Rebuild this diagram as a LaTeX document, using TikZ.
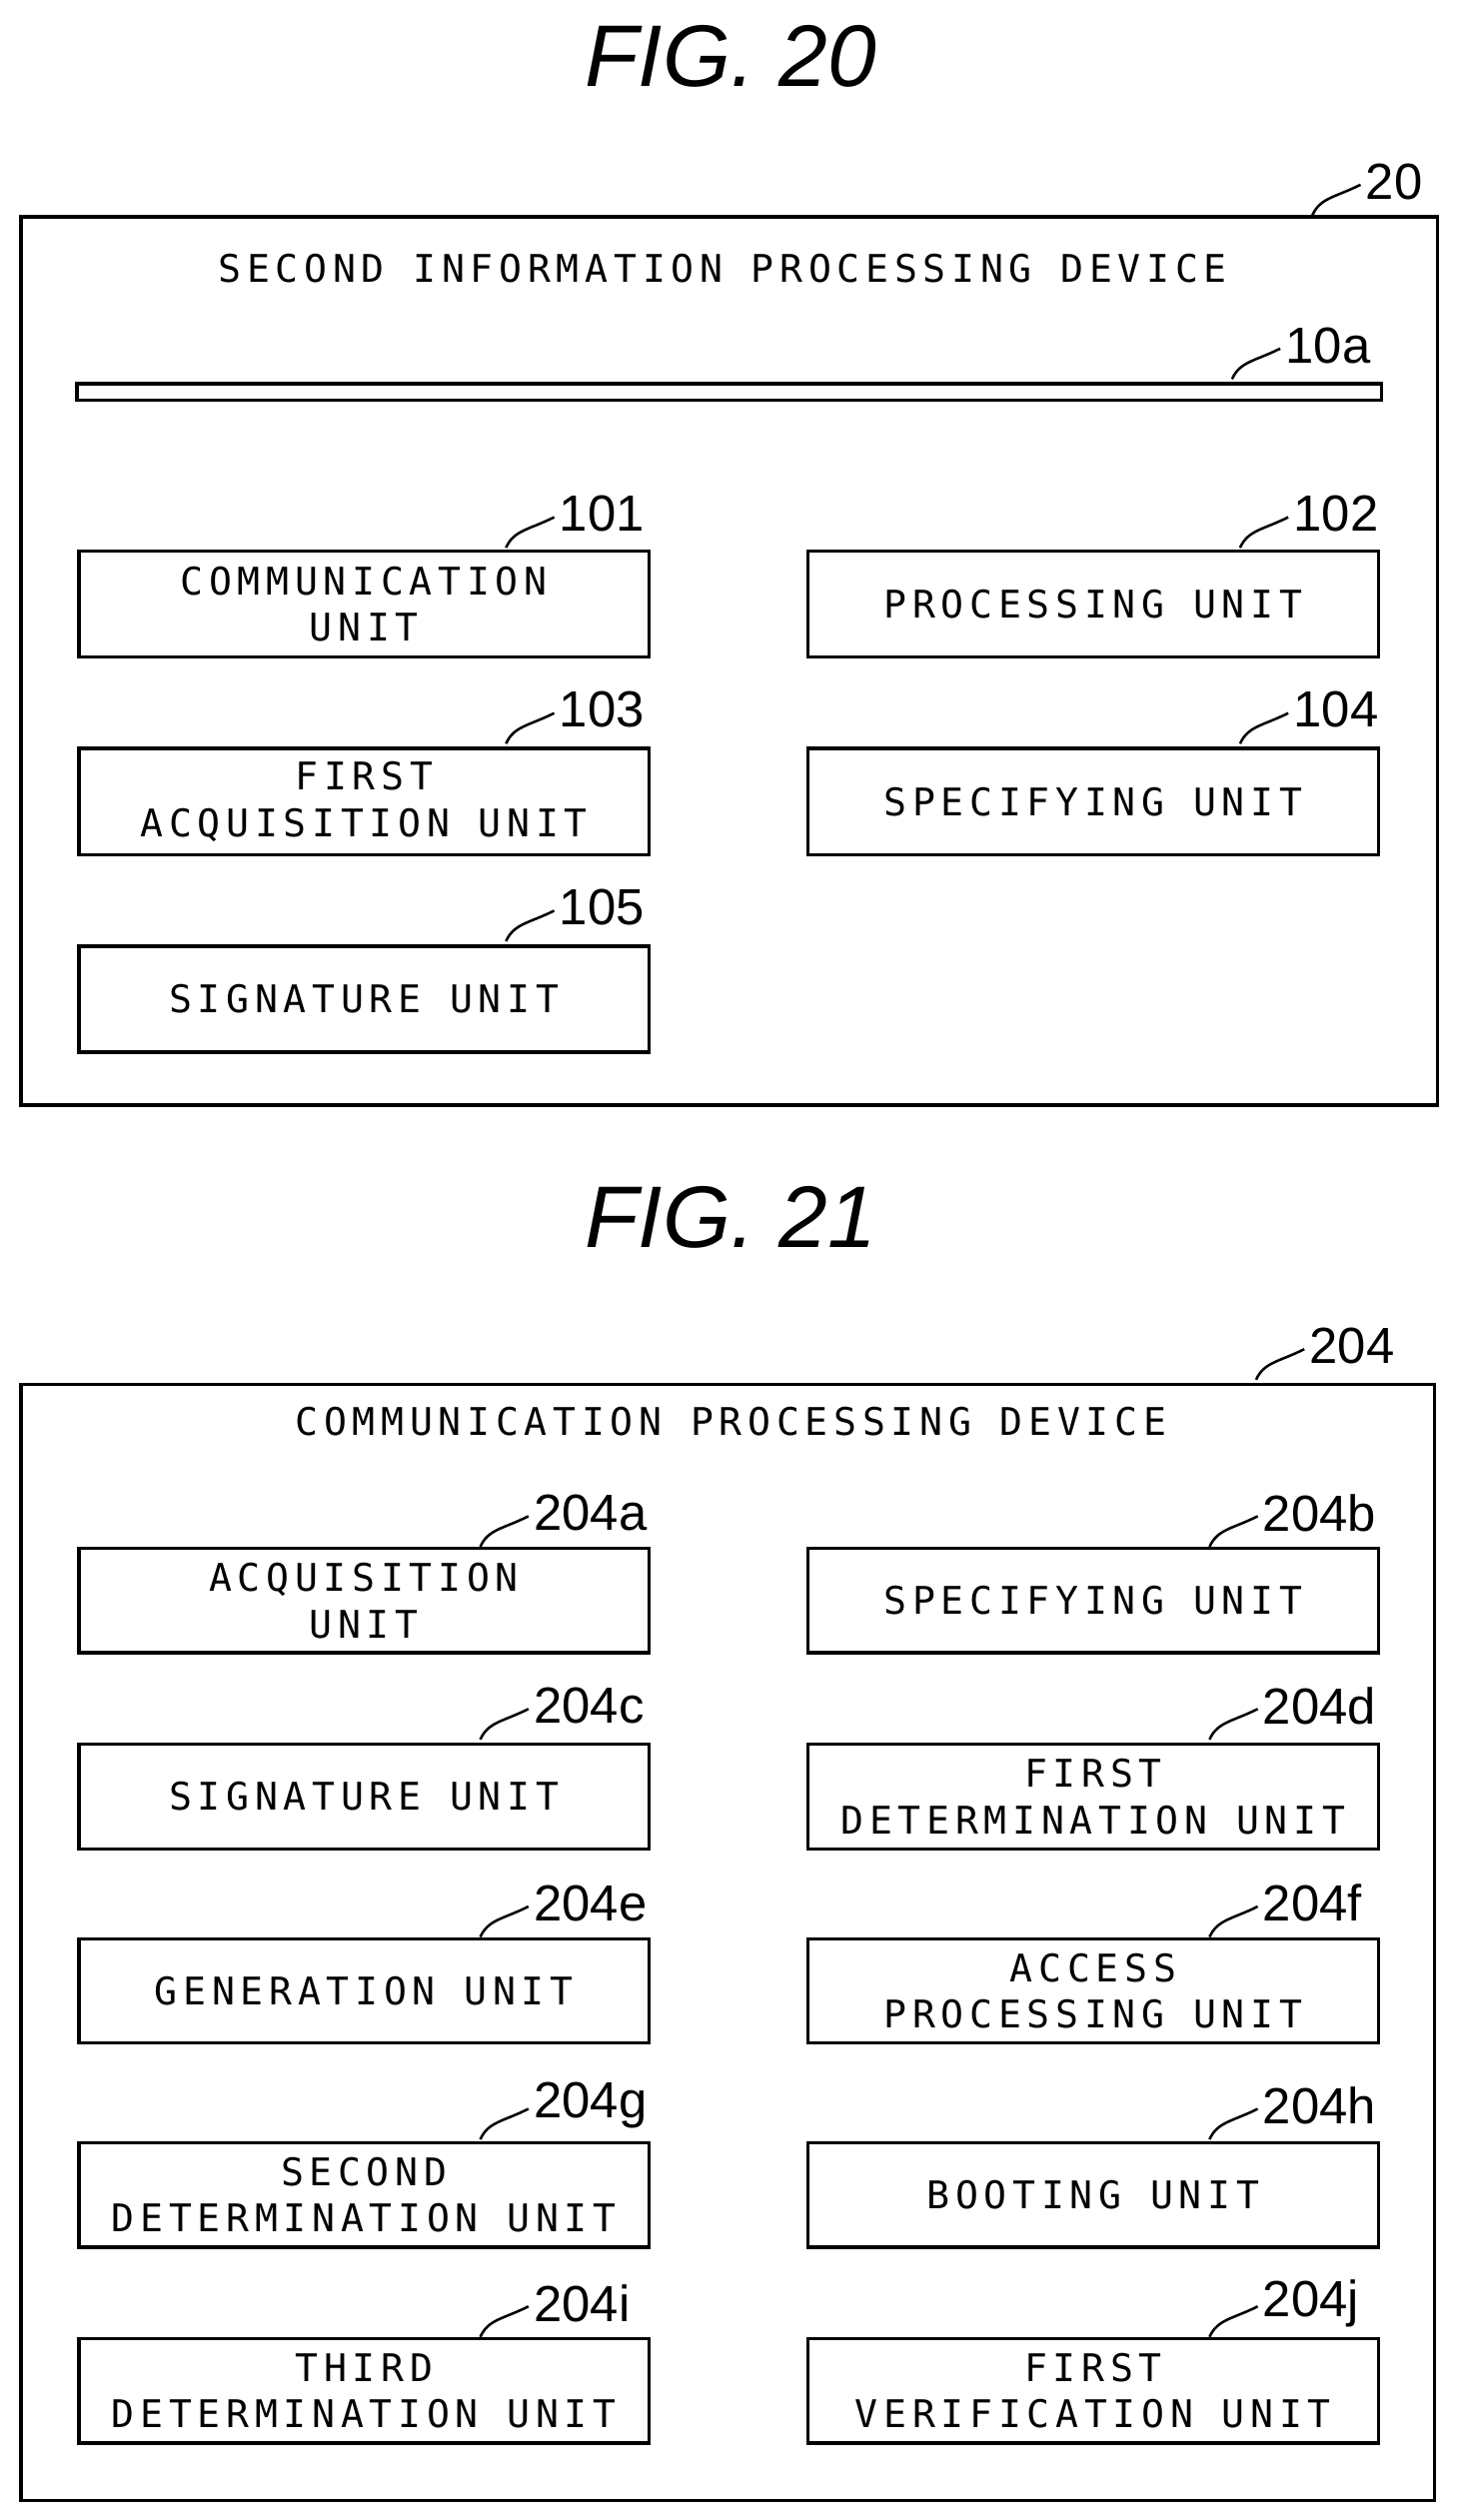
\documentclass[tikz,border=0pt]{standalone}
\usepackage{fontspec}
\setmainfont{Liberation Sans}
\newfontfamily\boxfont[LetterSpace=15]{DejaVu Sans Mono}
\usetikzlibrary{positioning}
\tikzset{
  unit/.style={draw, line width=1.2pt, align=center, font=\boxfont\fontsize{13.5}{16.5}\selectfont},
  ref/.style={anchor=west, inner sep=0pt, font=\fontsize{18}{20}\selectfont},
  figtitle/.style={font=\itshape\fontsize{31}{34}\selectfont},
  lead/.style={line width=0.9pt}
}
% leader squiggle from box to its reference number
\newcommand{\refmark}[3]{%
  \node[ref] (#1) at (#2) {#3};
  \coordinate (#1s) at ([xshift=-33*0.02cm, yshift=-21*0.02cm]#1.west);
  \draw[lead] (#1s) .. controls +(5*0.02cm,11*0.02cm) and +(-16*0.02cm,-8*0.02cm) .. ([xshift=-3*0.02cm,yshift=-2*0.02cm]#1.west);
}
\begin{document}
\begin{tikzpicture}[x=0.02cm, y=-0.02cm]
  \useasboundingbox (0,0) rectangle (909,1569);
  % FIG. 20
  \node[figtitle] (fig20) at (455,35) {FIG. 20};
  \draw[line width=1.2pt] (13,135) rectangle (895,688);
  \node[unit, draw=none] (dev20) at (450,167) {SECOND INFORMATION PROCESSING DEVICE};
  \draw[line width=1.2pt] (48,239) rectangle (860,249);
  \refmark{r20}{850,113}{20}
  \refmark{r10a}{800,215}{10a}
  \foreach \name/\x/\y/\txt in {
      u101/48/342/{COMMUNICATION\\UNIT}, u102/502/342/{PROCESSING UNIT},
      u103/48/465/{FIRST\\ACQUISITION UNIT}, u104/502/465/{SPECIFYING UNIT},
      u105/48/588/{SIGNATURE UNIT}}
    \node[unit, minimum width=355*0.02cm, minimum height=66*0.02cm, anchor=north west] (\name) at (\x,\y) {\txt};
  \refmark{r101}{348,320}{101}
  \refmark{r102}{805,320}{102}
  \refmark{r103}{348,442}{103}
  \refmark{r104}{805,442}{104}
  \refmark{r105}{348,565}{105}
  % FIG. 21
  \node[figtitle] (fig21) at (455,758) {FIG. 21};
  \draw[line width=1.2pt] (13,862) rectangle (893,1557);
  \node[unit, draw=none] (dev21) at (455,885) {COMMUNICATION PROCESSING DEVICE};
  \refmark{r204}{815,838}{204}
  \foreach \name/\x/\y/\txt in {
      ua/48/963/{ACQUISITION\\UNIT}, ub/502/963/{SPECIFYING UNIT},
      uc/48/1085/{SIGNATURE UNIT}, ud/502/1085/{FIRST\\DETERMINATION UNIT},
      ue/48/1206/{GENERATION UNIT}, uf/502/1206/{ACCESS\\PROCESSING UNIT},
      ug/48/1333/{SECOND\\DETERMINATION UNIT}, uh/502/1333/{BOOTING UNIT},
      ui/48/1455/{THIRD\\DETERMINATION UNIT}, uj/502/1455/{FIRST\\VERIFICATION UNIT}}
    \node[unit, minimum width=355*0.02cm, minimum height=65*0.02cm, anchor=north west] (\name) at (\x,\y) {\txt};
  \refmark{ra}{332,942}{204a}
  \refmark{rb}{786,942}{204b}
  \refmark{rc}{332,1062}{204c}
  \refmark{rd}{786,1062}{204d}
  \refmark{re}{332,1185}{204e}
  \refmark{rf}{786,1185}{204f}
  \refmark{rg}{332,1311}{204g}
  \refmark{rh}{786,1311}{204h}
  \refmark{ri}{332,1434}{204i}
  \refmark{rj}{786,1434}{204j}
\end{tikzpicture}
\end{document}
